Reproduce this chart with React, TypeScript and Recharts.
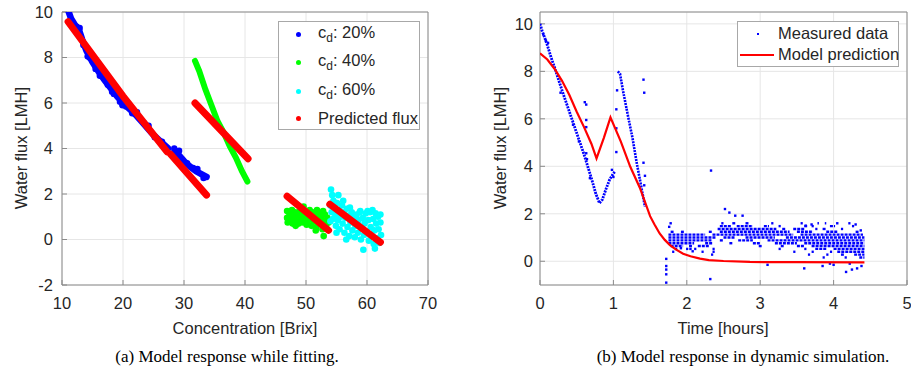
import React from 'react';
import { CartesianGrid, Scatter, ScatterChart, XAxis, YAxis } from 'recharts';

type Pt = [number, number];
type Seg = [number, number, number]; // t start, t end, flux

const SANS = '"Liberation Sans", Arial, sans-serif';
const SERIF = '"Liberation Serif", "Times New Roman", serif';
const TEXT = '#262626';
const BOX = '#8a8a8a';
const GRID = '#e6e6e6';
const BLUE = '#0000ff';
const GREEN = '#00ff00';
const CYAN = '#00ffff';
const RED = '#ff0000';

// (a) fitting
const fitXTicks = [10, 20, 30, 40, 50, 60, 70];
const fitYTicks = [-2, 0, 2, 4, 6, 8, 10];

const cd20TraceA: Pt[] = [
  [11.1, 10.0], [11.5, 9.7], [12.2, 9.4], [12.8, 9.2], [13.3, 8.8], [14, 8.3], [15, 7.8],
  [16, 7.38], [17, 7.0], [18, 6.65], [19, 6.3], [20, 6.0], [21, 5.75], [22, 5.5], [23, 5.2],
  [24, 4.9], [25, 4.6], [26, 4.35], [27, 4.1], [27.4, 4.0],
];
const cd20TraceB: Pt[] = [
  [28.5, 3.9], [29, 3.75], [30, 3.45], [31, 3.2], [32, 3.0], [33, 2.85], [33.7, 2.75],
];
const cd20Spread: Pt[] = [
  [12.9, 9.3], [13.5, 8.55], [14.5, 8.0], [16.5, 7.2], [18.5, 6.4], [19.5, 6.05], [20.5, 5.85],
  [21.5, 5.55], [22.3, 5.6], [24.2, 5.0], [25.2, 4.5], [28.4, 4.0], [29.2, 3.9], [30.5, 3.35],
  [32.2, 3.1], [33.2, 2.7], [12.4, 9.35], [15.5, 7.5], [17.5, 6.8], [14.2, 8.05], [16.2, 7.2],
  [18.2, 6.5], [19.9, 5.9], [23.5, 5.1], [26.4, 4.3], [29.6, 3.5], [31.5, 3.15],
];
const cd40Trace: Pt[] = [
  [31.8, 7.85], [32.5, 7.4], [33.5, 6.6], [34.5, 5.9], [35.5, 5.2], [36.5, 4.7], [37.5, 4.1],
  [38.5, 3.6], [39.5, 3.0], [40.4, 2.55],
];
const cd40Cloud: Pt[] = [
  [46.9, 1.25], [46.9, 0.95], [47.0, 0.75], [47.3, 1.1], [47.5, 0.85], [47.7, 1.3], [47.8, 0.7],
  [48.0, 1.0], [48.2, 1.2], [48.4, 0.8], [48.6, 1.05], [48.8, 0.7], [49.0, 1.3], [49.1, 0.9],
  [49.3, 1.1], [49.5, 0.75], [49.7, 1.25], [49.9, 0.95], [50.1, 0.65], [50.2, 1.15], [50.4, 0.85],
  [50.6, 1.3], [50.8, 1.0], [50.9, 0.6], [51.1, 1.2], [51.3, 0.8], [51.5, 1.05], [51.7, 0.55],
  [51.8, 1.3], [52.0, 0.9], [52.2, 1.15], [52.3, 0.7], [52.5, 1.0], [52.7, 0.45], [52.8, 1.25],
  [53.0, 0.8], [53.1, 1.1], [53.3, 0.6], [53.5, 0.95], [53.7, 0.75], [52.9, 0.15], [51.6, 0.4],
  [49.6, 1.45], [48.3, 0.6],
];
const cd60Cloud: Pt[] = [
  [54.1, 2.2], [54.3, 1.95], [54.5, 1.7], [54.0, 1.5], [54.2, 1.2], [54.4, 0.9], [54.0, 0.8],
  [54.6, 1.4], [54.8, 1.1], [54.9, 0.6], [55.1, 1.6], [55.2, 0.85], [55.4, 1.3], [55.5, 0.45],
  [55.7, 1.0], [55.9, 1.5], [56.0, 0.7], [56.2, 1.2], [56.3, 0.3], [56.5, 0.95], [56.7, 1.35],
  [56.8, 0.55], [57.0, 1.05], [57.1, 0.15], [57.3, 0.75], [57.5, 1.2], [57.6, 0.4], [57.8, 0.95],
  [58.0, 0.1], [58.1, 0.6], [58.3, 1.1], [58.5, 0.3], [58.6, 0.85], [58.8, 1.2], [59.0, 0.0],
  [59.1, 0.5], [59.3, 0.95], [59.5, 0.2], [59.4, -0.45], [59.6, 0.7], [59.8, 1.15], [60.0, 0.35],
  [60.2, 0.85], [60.3, -0.05], [60.5, 1.2], [60.6, 0.55], [60.8, 0.15], [61.0, 0.9], [61.1, -0.2],
  [61.2, 0.4], [61.4, 1.15], [61.5, 0.7], [61.7, 0.05], [61.8, 1.0], [61.9, 0.45], [62.0, -0.15],
  [62.2, 0.75], [62.3, 0.2], [61.3, -0.4], [62.2, 1.1], [58.9, 1.25], [57.2, 1.4], [56.1, 1.7],
  [55.3, 1.95], [60.1, 1.25], [60.9, 1.3], [55.0, 0.3], [56.6, 0.0],
];
const predictedFlux: Pt[][] = [
  [[11.0, 9.57], [20, 6.3], [27.2, 3.86]],
  [[27.8, 3.75], [33.7, 1.95]],
  [[31.8, 6.0], [40.5, 3.55]],
  [[46.9, 1.9], [53.7, 0.4]],
  [[53.9, 1.55], [62.2, -0.12]],
];

// (b) dynamic simulation
const simXTicks = [0, 1, 2, 3, 4, 5];
const simYTicks = [0, 2, 4, 6, 8, 10];

const measuredTraceA: Pt[] = [
  [0, 10.0], [0.03, 9.7], [0.06, 9.45], [0.1, 9.1], [0.15, 8.6], [0.2, 8.15], [0.3, 7.2],
  [0.4, 6.3], [0.5, 5.4], [0.6, 4.5], [0.7, 3.5], [0.76, 2.85], [0.81, 2.45], [0.85, 2.6],
  [0.9, 3.05], [0.95, 3.45], [1.0, 3.7], [1.02, 3.77],
];
const measuredTraceB: Pt[] = [
  [1.06, 8.0], [1.09, 7.9], [1.13, 7.2], [1.2, 6.1], [1.26, 5.2], [1.32, 4.1], [1.37, 3.3],
  [1.43, 2.3],
];
const measuredDots: Pt[] = [
  [0.045, 9.55], [0.08, 9.3], [0.11, 9.2], [0.28, 7.1], [0.45, 5.75], [0.53, 5.05], [0.68, 3.5],
  [0.61, 6.7], [0.63, 6.6], [0.63, 5.95], [0.63, 5.65], [0.63, 4.55], [0.64, 4.3],
  [1.04, 6.4], [1.04, 5.6], [1.04, 4.6], [1.05, 7.2], [1.0, 3.55], [0.98, 3.85],
  [1.41, 7.65], [1.42, 7.1], [1.41, 4.15], [1.42, 3.2], [1.43, 3.6],
  [2.33, 3.82], [2.32, -0.75], [1.72, 0.1], [1.72, -0.2], [1.72, -0.35], [1.72, -0.55], [1.72, -0.9],
  [2.52, 2.2], [2.58, 2.05], [2.66, 1.92], [2.76, 1.92], [1.78, 1.6], [1.76, 1.45],
  [3.1, -0.15], [3.6, -0.3], [3.85, -0.2], [4.0, -0.15], [4.17, -0.45], [4.25, -0.35],
  [4.32, -0.3], [4.38, -0.2], [4.22, -0.1], [3.95, -0.1], [4.05, 1.6], [4.3, 1.55], [3.7, 1.55],
  [3.62, 1.5], [4.37, 1.3], [2.05, 0.52], [2.08, 0.42], [1.92, 0.55],
];
const measuredBand: Seg[] = [
  [2.47, 2.5, 1.6], [2.62, 2.66, 1.6], [2.8, 2.84, 1.6], [3.15, 3.18, 1.6], [3.55, 3.58, 1.6],
  [3.78, 3.8, 1.6], [3.88, 3.9, 1.6], [4.2, 4.23, 1.6],
  [2.45, 2.6, 1.48], [2.68, 2.9, 1.48], [3.05, 3.12, 1.48], [3.25, 3.28, 1.48], [3.6, 3.64, 1.48],
  [3.7, 3.73, 1.48], [3.95, 4.02, 1.48], [4.25, 4.28, 1.48],
  [2.42, 3.22, 1.36], [3.3, 3.35, 1.36], [3.45, 3.6, 1.36], [3.75, 3.78, 1.36], [3.85, 3.9, 1.36],
  [4.1, 4.13, 1.36],
  [1.78, 1.82, 1.24], [1.92, 1.96, 1.24], [2.3, 2.34, 1.24], [2.45, 3.4, 1.24], [3.5, 3.72, 1.24],
  [3.9, 4.05, 1.24], [4.3, 4.34, 1.24],
  [1.75, 2.25, 1.12], [2.35, 3.45, 1.12], [3.55, 4.4, 1.12],
  [1.75, 2.4, 1.0], [2.5, 2.65, 1.0], [2.8, 3.2, 1.0], [3.35, 4.42, 1.0],
  [1.75, 2.35, 0.88], [2.45, 2.5, 0.88], [2.7, 2.9, 0.88], [3.1, 4.42, 0.88],
  [1.75, 2.1, 0.76], [2.25, 2.35, 0.76], [2.58, 2.62, 0.76], [2.9, 3.0, 0.76], [3.2, 3.5, 0.76],
  [3.6, 4.42, 0.76],
  [1.78, 1.95, 0.64], [2.03, 2.07, 0.64], [2.15, 2.3, 0.64], [2.98, 3.02, 0.64], [3.28, 3.32, 0.64],
  [3.5, 3.6, 0.64], [3.7, 4.42, 0.64],
  [1.84, 1.87, 0.52], [1.99, 2.02, 0.52], [2.1, 2.13, 0.52], [2.35, 2.38, 0.52], [3.25, 3.28, 0.52],
  [3.6, 3.63, 0.52], [3.75, 3.9, 0.52], [4.0, 4.42, 0.52],
  [1.8, 1.83, 0.4], [2.2, 2.23, 0.4], [2.35, 2.38, 0.4], [3.45, 3.48, 0.4], [3.7, 3.73, 0.4],
  [3.95, 3.98, 0.4], [4.05, 4.42, 0.4],
  [2.33, 2.36, 0.28], [3.65, 3.68, 0.28], [3.9, 3.93, 0.28], [4.1, 4.14, 0.28], [4.28, 4.42, 0.28],
  [3.85, 3.88, 0.16], [4.15, 4.18, 0.16], [4.35, 4.42, 0.16],
];
const modelPrediction: Pt[] = [
  [0, 8.76], [0.1, 8.5], [0.2, 8.1], [0.3, 7.6], [0.4, 7.0], [0.5, 6.3], [0.6, 5.65], [0.7, 4.95],
  [0.77, 4.33], [0.87, 5.2], [0.96, 6.06], [1.1, 5.05], [1.23, 3.98], [1.36, 3.1], [1.5, 1.9],
  [1.56, 1.55], [1.63, 1.17], [1.7, 0.9], [1.77, 0.68], [1.85, 0.5], [1.95, 0.32], [2.05, 0.21],
  [2.18, 0.11], [2.3, 0.05], [2.5, 0.01], [2.86, -0.03], [3.5, -0.04], [4.42, -0.05],
];

const rows = (pts: Pt[]) => pts.map(([x, y]) => ({ x, y }));
const dot = (r: number, fill: string) => (p: any) => <circle cx={p.cx} cy={p.cy} r={r} fill={fill} />;
const noDot = () => <g />;

const tickStyle = { fill: TEXT, fontSize: 16.5, fontFamily: SANS };

function Frame({ xDomain, yDomain, xTicks, yTicks, yWidth, yTickMargin }: any) {
  return [
    <CartesianGrid key="g" stroke={GRID} />,
    <XAxis key="xb" xAxisId={0} dataKey="x" type="number" domain={xDomain} ticks={xTicks}
      interval={0} allowDataOverflow stroke={BOX} tickSize={-5} tickMargin={17} height={35} tick={tickStyle} />,
    <XAxis key="xt" xAxisId="top" orientation="top" type="number" domain={xDomain} ticks={xTicks}
      interval={0} allowDataOverflow stroke={BOX} tickSize={-5} height={1} tick={false} />,
    <YAxis key="yl" yAxisId={0} dataKey="y" type="number" domain={yDomain} ticks={yTicks} width={yWidth}
      interval={0} allowDataOverflow stroke={BOX} tickSize={-5} tickMargin={yTickMargin} tick={tickStyle} />,
    <YAxis key="yr" yAxisId="right" orientation="right" type="number" domain={yDomain} ticks={yTicks}
      interval={0} allowDataOverflow stroke={BOX} tickSize={-5} width={1} tick={false} />,
  ];
}

function FittingChart() {
  return (
    <ScatterChart width={450} height={320} margin={{ top: 11, right: 21, bottom: 0, left: 0 }}>
      {Frame({ xDomain: [10, 70], yDomain: [-2, 10], xTicks: fitXTicks, yTicks: fitYTicks, yWidth: 62, yTickMargin: 14 })}
      <Scatter data={rows(cd20TraceA)} line={{ stroke: BLUE, strokeWidth: 6.5, strokeLinecap: 'round' }}
        shape={noDot} isAnimationActive={false} />
      <Scatter data={rows(cd20TraceB)} line={{ stroke: BLUE, strokeWidth: 6.5, strokeLinecap: 'round' }}
        shape={noDot} isAnimationActive={false} />
      <Scatter data={rows(cd20Spread)} shape={dot(3.2, BLUE)} isAnimationActive={false} />
      <Scatter data={rows(cd40Trace)} line={{ stroke: GREEN, strokeWidth: 6, strokeLinecap: 'round' }}
        shape={noDot} isAnimationActive={false} />
      <Scatter data={rows(cd40Cloud)} shape={dot(3.3, GREEN)} isAnimationActive={false} />
      <Scatter data={rows(cd60Cloud)} shape={dot(3.3, CYAN)} isAnimationActive={false} />
      {predictedFlux.map((seg, i) => (
        <Scatter key={i} data={rows(seg)} line={{ stroke: RED, strokeWidth: 7, strokeLinecap: 'round' }}
          shape={noDot} isAnimationActive={false} />
      ))}
    </ScatterChart>
  );
}

function SimulationChart() {
  return (
    <ScatterChart width={451} height={320} margin={{ top: 11, right: 3, bottom: 0, left: 0 }}>
      {Frame({ xDomain: [0, 5], yDomain: [-1, 10.5], xTicks: simXTicks, yTicks: simYTicks, yWidth: 80, yTickMargin: 12 })}
      {measuredBand.map(([t0, t1, y], i) => (
        <Scatter key={'b' + i} data={[{ x: t0, y }, { x: t1, y }]}
          line={{ stroke: BLUE, strokeWidth: 2.4, strokeDasharray: '3 1' }} shape={noDot} isAnimationActive={false} />
      ))}
      <Scatter data={rows(measuredTraceA)} line={{ stroke: BLUE, strokeWidth: 2.8, strokeDasharray: '2 1' }}
        shape={noDot} isAnimationActive={false} />
      <Scatter data={rows(measuredTraceB)} line={{ stroke: BLUE, strokeWidth: 2.6, strokeDasharray: '2 1' }}
        shape={noDot} isAnimationActive={false} />
      <Scatter data={rows(measuredDots)} shape={(p: any) => <rect x={p.cx - 1.2} y={p.cy - 1.2} width={2.4} height={2.4} fill={BLUE} />}
        isAnimationActive={false} />
      <Scatter data={rows(modelPrediction)} line={{ stroke: RED, strokeWidth: 2.2 }} shape={noDot}
        isAnimationActive={false} />
    </ScatterChart>
  );
}

const abs = (s: React.CSSProperties): React.CSSProperties => ({ position: 'absolute', ...s });
const centered = (x: number, y: number, extra: React.CSSProperties = {}): React.CSSProperties =>
  abs({ left: x, top: y, transform: 'translate(-50%, -50%)', whiteSpace: 'nowrap', ...extra });

function Cd({ pct }: { pct: string }) {
  return (
    <span>
      c<sub style={{ fontSize: 12, verticalAlign: -4 }}>d</sub>: {pct}
    </span>
  );
}

export default function App() {
  const label = { fontFamily: SANS, fontSize: 16.5, color: TEXT };
  const caption = { fontFamily: SERIF, fontSize: 17, color: '#000' };
  const legendBox = { background: '#fff', border: '1px solid #a8a8a8', fontFamily: SANS, fontSize: 16.5, color: TEXT };
  const fitLegend = [
    { color: BLUE, text: <Cd pct="20%" />, y: 13 },
    { color: GREEN, text: <Cd pct="40%" />, y: 41 },
    { color: CYAN, text: <Cd pct="60%" />, y: 70 },
    { color: RED, text: 'Predicted flux', y: 97 },
  ];
  return (
    <div style={abs({ left: 0, top: 0, width: 911, height: 381, background: '#fff', overflow: 'hidden' })}>
      <div style={abs({ left: 0, top: 0 })}><FittingChart /></div>
      <div style={abs({ left: 460, top: 0 })}><SimulationChart /></div>

      <div style={abs({ left: 278, top: 21, width: 140, height: 107, ...legendBox })}>
        {fitLegend.map((e, i) => (
          <React.Fragment key={i}>
            <div style={abs({ left: 17, top: e.y - 3, width: 5, height: 5, borderRadius: 3, background: e.color })} />
            <div style={abs({ left: 39, top: e.y, transform: 'translateY(-55%)', whiteSpace: 'nowrap' })}>{e.text}</div>
          </React.Fragment>
        ))}
      </div>

      <div style={abs({ left: 737, top: 21, width: 160, height: 44, ...legendBox })}>
        <div style={abs({ left: 19, top: 11, width: 2, height: 2, background: BLUE })} />
        <div style={abs({ left: 40, top: 12, transform: 'translateY(-52%)', whiteSpace: 'nowrap' })}>Measured data</div>
        <div style={abs({ left: 2, top: 32, width: 34, height: 2, background: RED })} />
        <div style={abs({ left: 40, top: 33, transform: 'translateY(-52%)', whiteSpace: 'nowrap' })}>Model prediction</div>
      </div>

      <div style={centered(21, 148, { ...label, transform: 'translate(-50%, -50%) rotate(-90deg)' })}>Water flux [LMH]</div>
      <div style={centered(500, 148, { ...label, transform: 'translate(-50%, -50%) rotate(-90deg)' })}>Water flux [LMH]</div>
      <div style={centered(245, 328, label)}>Concentration [Brix]</div>
      <div style={centered(723, 328, label)}>Time [hours]</div>
      <div style={centered(227, 357, caption)}>(a) Model response while fitting.</div>
      <div style={centered(743, 357, caption)}>(b) Model response in dynamic simulation.</div>
    </div>
  );
}
